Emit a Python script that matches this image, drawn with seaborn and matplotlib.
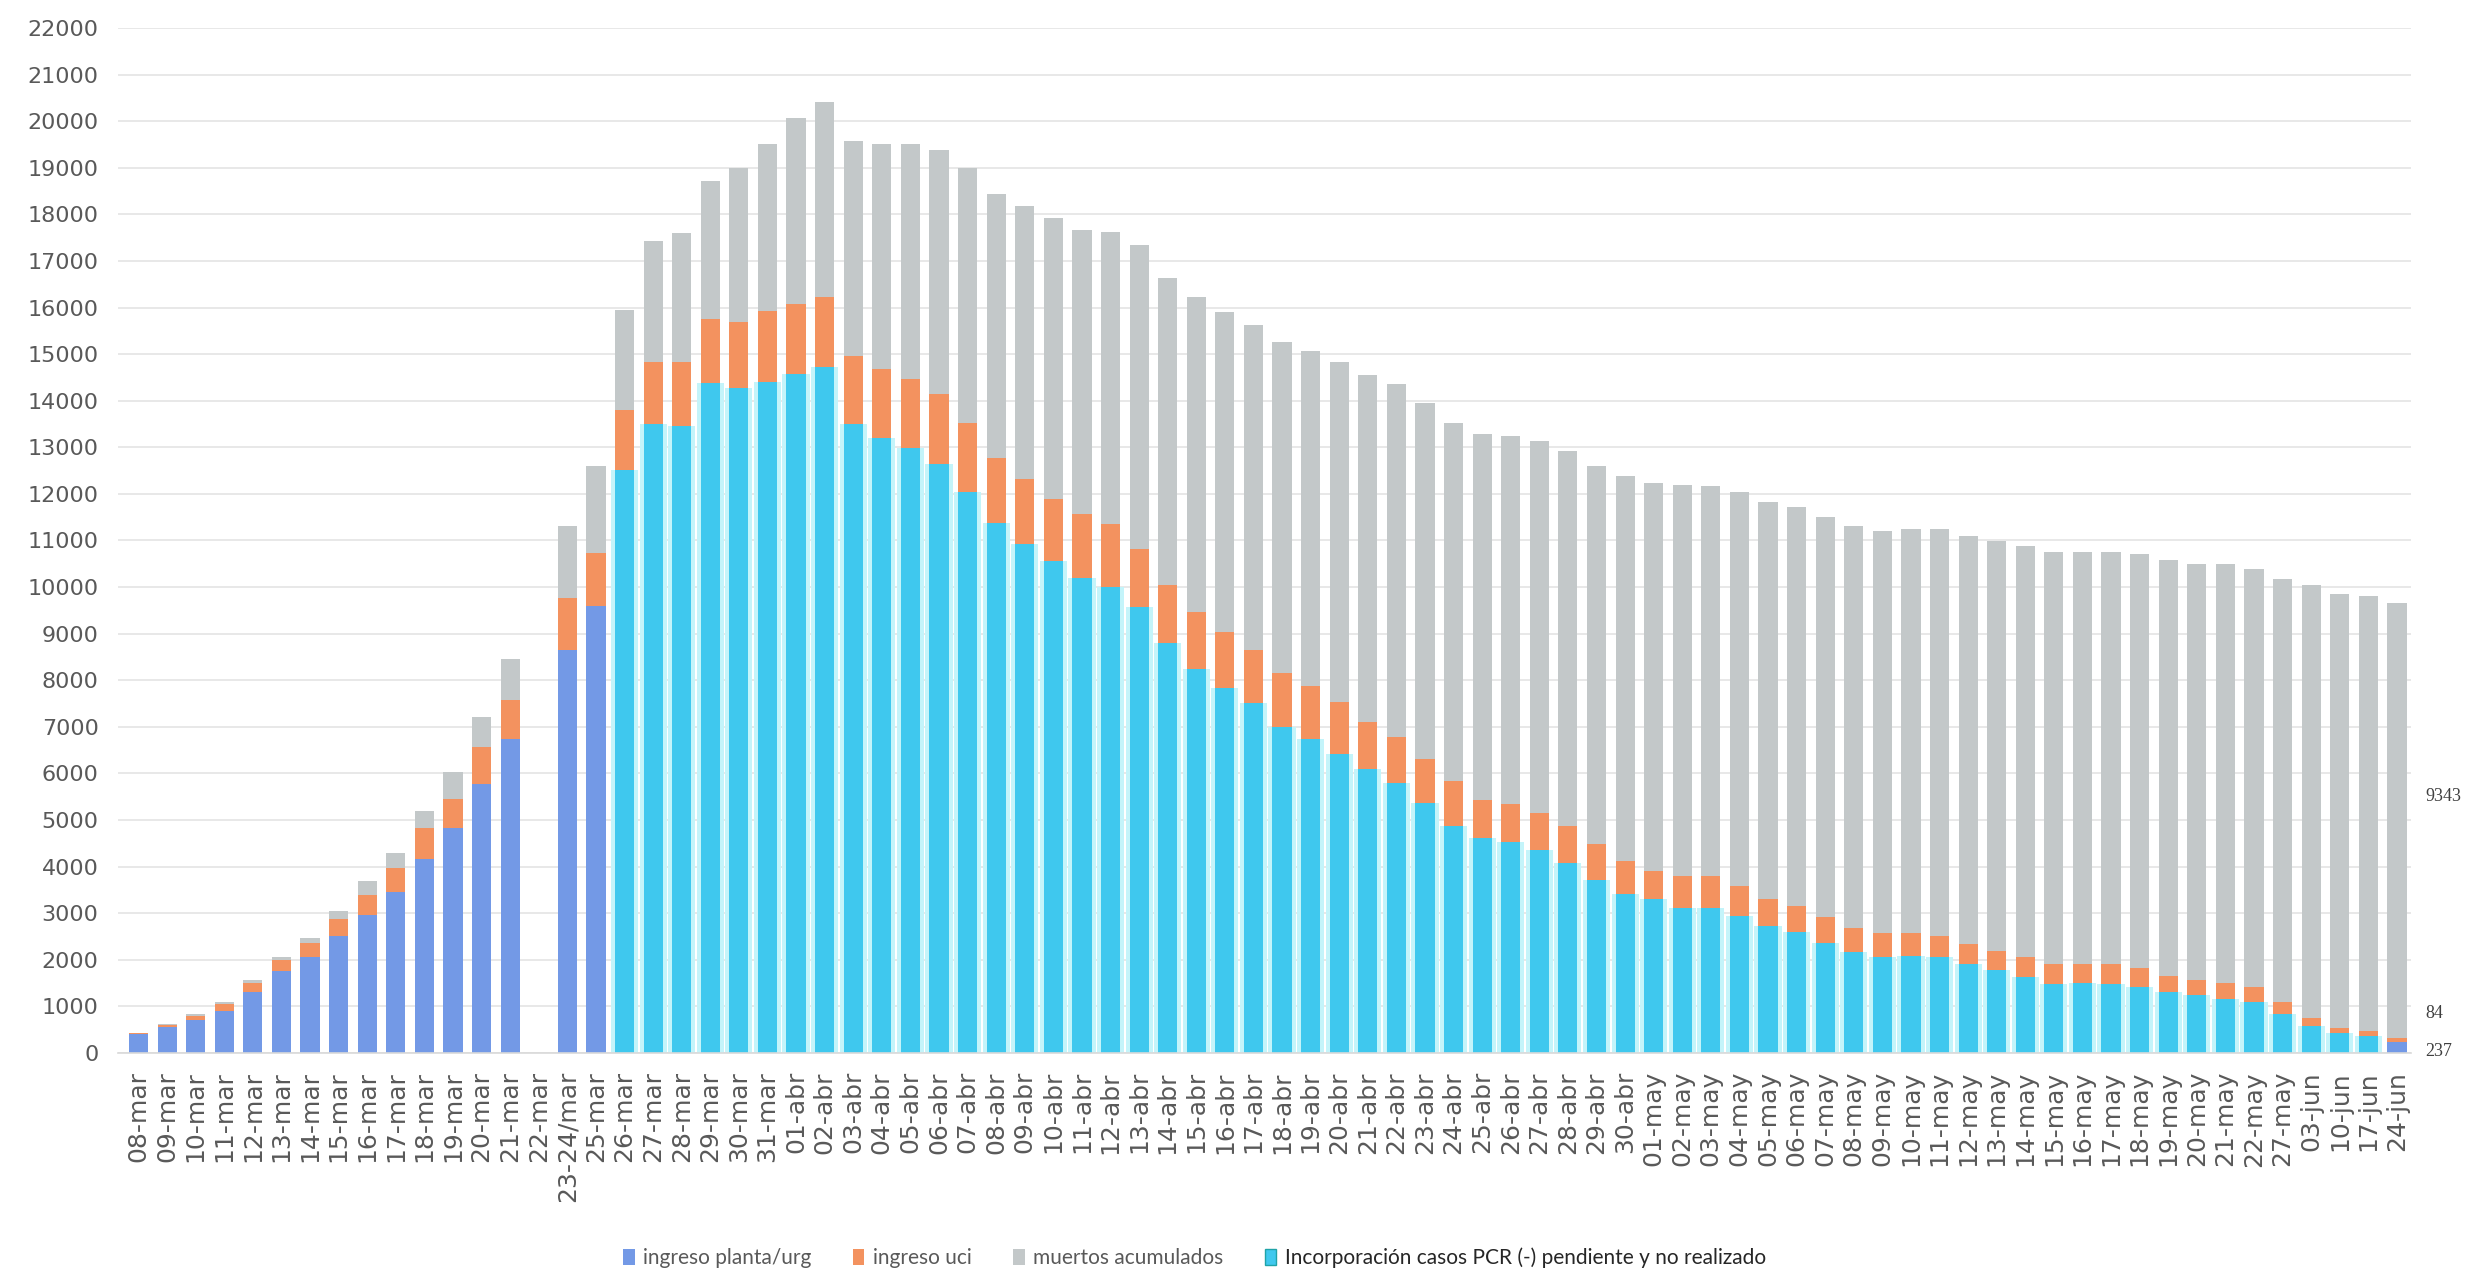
import numpy as np
import pandas as pd
import matplotlib
matplotlib.use("Agg")
import matplotlib.pyplot as plt
from matplotlib.patches import Patch
import seaborn as sns

# Dates (categories)
fechas = [
    "08-mar", "09-mar", "10-mar", "11-mar", "12-mar", "13-mar", "14-mar", "15-mar",
    "16-mar", "17-mar", "18-mar", "19-mar", "20-mar", "21-mar", "22-mar", "23-24/mar",
    "25-mar", "26-mar", "27-mar", "28-mar", "29-mar", "30-mar", "31-mar",
    "01-abr", "02-abr", "03-abr", "04-abr", "05-abr", "06-abr", "07-abr", "08-abr",
    "09-abr", "10-abr", "11-abr", "12-abr", "13-abr", "14-abr", "15-abr", "16-abr",
    "17-abr", "18-abr", "19-abr", "20-abr", "21-abr", "22-abr", "23-abr", "24-abr",
    "25-abr", "26-abr", "27-abr", "28-abr", "29-abr", "30-abr",
    "01-may", "02-may", "03-may", "04-may", "05-may", "06-may", "07-may", "08-may",
    "09-may", "10-may", "11-may", "12-may", "13-may", "14-may", "15-may", "16-may",
    "17-may", "18-may", "19-may", "20-may", "21-may", "22-may", "27-may",
    "03-jun", "10-jun", "17-jun", "24-jun",
]

# ingreso planta/urg (blue)
planta_urg = [
    410, 560, 700, 900, 1300, 1750, 2070, 2500, 2970, 3450, 4170, 4820, 5770, 6740,
    0, 8640, 9600,
] + [0] * 62 + [237]

# planta incl. incorporación casos PCR (-) pendiente y no realizado (cyan)
planta_pcr = [0] * 17 + [
    12510, 13500, 13460, 14370, 14280, 14400, 14570, 14720,
    13490, 13200, 12990, 12640, 12050, 11380, 10920, 10560, 10190, 10000,
    9570, 8790, 8240, 7830, 7510, 7000, 6740, 6420, 6100, 5800,
    5360, 4870, 4610, 4530, 4350, 4070, 3710, 3420, 3300, 3110,
    3120, 2940, 2720, 2600, 2360, 2170, 2070, 2080, 2070, 1920,
    1780, 1630, 1490, 1500, 1490, 1420, 1310, 1240, 1160, 1090,
    840, 580, 430, 370,
] + [0]

# ingreso uci (orange)
uci = [
    20, 45, 90, 150, 200, 240, 280, 370, 410, 510, 650, 630, 800, 840,
    0, 1120, 1130, 1290, 1340, 1380, 1380, 1420, 1520, 1500, 1500,
    1460, 1490, 1480, 1500, 1470, 1380, 1410, 1340, 1380, 1350,
    1250, 1260, 1220, 1200, 1130, 1160, 1130, 1120, 1000, 980,
    960, 970, 820, 810, 800, 800, 780, 710, 610, 690,
    670, 650, 580, 550, 560, 520, 510, 500, 430, 410,
    400, 420, 430, 410, 420, 400, 350, 320, 350, 320,
    250, 160, 110, 100, 84,
]

# muertos acumulados (grey)
muertos = [
    5, 15, 50, 50, 60, 80, 110, 170, 310, 330, 370, 580, 650, 870,
    0, 1550, 1860, 2150, 2580, 2760, 2960, 3300, 3590, 3990, 4200,
    4630, 4820, 5040, 5240, 5480, 5670, 5840, 6030, 6100, 6280,
    6520, 6580, 6770, 6870, 6990, 7100, 7190, 7300, 7450, 7580,
    7640, 7690, 7850, 7900, 7980, 8050, 8100, 8250, 8320, 8390,
    8390, 8460, 8520, 8570, 8580, 8620, 8620, 8660, 8740, 8760,
    8810, 8830, 8830, 8840, 8840, 8880, 8920, 8930, 8980, 8980,
    9080, 9310, 9310, 9330, 9343,
]

df = pd.DataFrame({
    "fecha": fechas,
    "planta_urg": planta_urg,
    "planta_pcr": planta_pcr,
    "uci": uci,
    "muertos": muertos,
})
df["base"] = df["planta_urg"] + df["planta_pcr"]
df["hasta_uci"] = df["base"] + df["uci"]
df["total"] = df["hasta_uci"] + df["muertos"]

C_BLUE = "#7399E6"
C_CYAN = "#3FC8EE"
C_GLOW = "#C4F4FA"
C_ORANGE = "#F3925F"
C_GREY = "#C3C8C9"

sns.set_theme(style="white")
plt.rcParams["font.family"] = ["DejaVu Sans"]

fig = plt.figure(figsize=(24.68, 12.74), dpi=100)
ax = fig.add_axes([0.0478, 0.1735, 0.9292, 0.8045])

W = 0.67
common = dict(x="fecha", order=fechas, ax=ax, saturation=1, linewidth=0, errorbar=None)

# pale halo behind the cyan segments
sns.barplot(data=df, y="planta_pcr", color=C_GLOW, width=0.95, **common)
# stacked layers drawn from the tallest cumulative sum down
sns.barplot(data=df, y="total", color=C_GREY, width=W, **common)
sns.barplot(data=df, y="hasta_uci", color=C_ORANGE, width=W, **common)
sns.barplot(data=df, y="planta_pcr", color=C_CYAN, width=W, **common)
sns.barplot(data=df, y="planta_urg", color=C_BLUE, width=W, **common)

ax.set_xlim(-0.72, len(fechas) - 0.5)
ax.set_ylim(0, 22000)
ax.set_yticks(np.arange(0, 22001, 1000))
ax.yaxis.grid(True, color="#E4E4E4", linewidth=1.2)
ax.set_axisbelow(True)
ax.set_xlabel("")
ax.set_ylabel("")
for s in ["top", "right", "left"]:
    ax.spines[s].set_visible(False)
ax.spines["bottom"].set_color("#D9D9D9")
ax.spines["bottom"].set_linewidth(1.2)

ax.tick_params(axis="y", length=0, pad=14, labelsize=16, labelcolor="#595959")
ax.tick_params(axis="x", length=0, pad=13, labelsize=18, labelcolor="#595959", rotation=90)

# data labels beside the last bar
last = len(fechas) - 1
b_urg = df["planta_urg"].iloc[last]
b_uci = df["uci"].iloc[last]
b_m = df["muertos"].iloc[last]
lab_kw = dict(textcoords="offset points", ha="left", va="center",
              fontsize=13, color="#404040", family="Liberation Serif",
              annotation_clip=False)
ax.annotate(f"{b_m}", xy=(last + 1.0, b_urg + b_uci + b_m / 2), xytext=(0, 17), **lab_kw)
ax.annotate(f"{b_uci}", xy=(last + 1.0, b_urg + b_uci / 2), xytext=(0, 19), **lab_kw)
ax.annotate(f"{b_urg}", xy=(last + 1.0, b_urg / 2), xytext=(0, -3), **lab_kw)

handles = [
    Patch(facecolor=C_BLUE, edgecolor="none", label="ingreso planta/urg"),
    Patch(facecolor=C_ORANGE, edgecolor="none", label="ingreso uci"),
    Patch(facecolor=C_GREY, edgecolor="none", label="muertos acumulados"),
    Patch(facecolor=C_CYAN, edgecolor="#1FA3A8", label="Incorporación casos PCR (-) pendiente y no realizado"),
]
leg = fig.legend(handles=handles, loc="lower center", bbox_to_anchor=(0.484, -0.010),
                 ncol=4, frameon=False, handlelength=0.55, handleheight=0.8,
                 handletextpad=0.4, columnspacing=2.0,
                 prop={"family": "Lato", "size": 15})
for t in leg.get_texts()[:3]:
    t.set_color("#595959")
leg.get_texts()[3].set_color("#262626")

fig.savefig("out.png", dpi=100, facecolor="white")
